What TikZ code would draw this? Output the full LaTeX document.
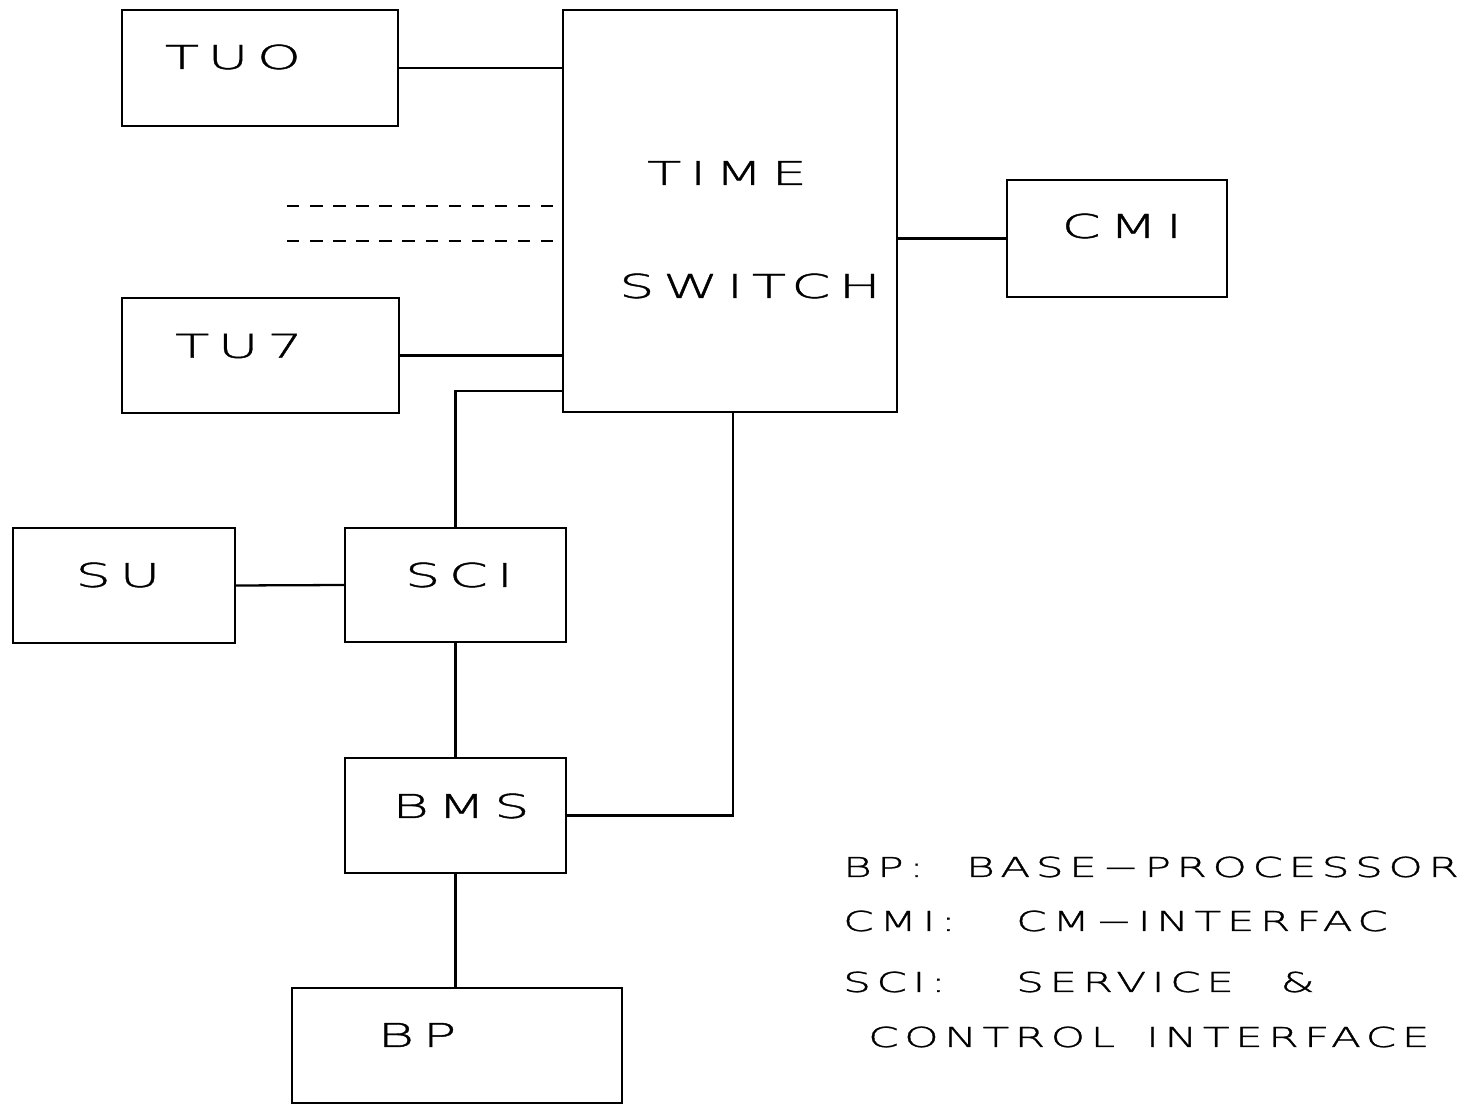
\documentclass[tikz,border=0pt]{standalone}
\usepackage{fontspec}
\usepackage{tikz}
\usetikzlibrary{positioning, calc}
\IfFontExistsTF{DejaVu Sans ExtraLight}{%
  \newfontfamily\plotfont[FakeStretch=1.7, LetterSpace=26, FakeBold=1.2]{DejaVu Sans ExtraLight}
  \newfontfamily\keyfont[FakeStretch=1.6, LetterSpace=20, WordSpace=2.4, FakeBold=1.2]{DejaVu Sans ExtraLight}
}{%
  \newfontfamily\plotfont[FakeStretch=1.8, LetterSpace=31]{DejaVu Sans Mono}
  \newfontfamily\keyfont[FakeStretch=1.8, LetterSpace=18, WordSpace=1.16]{DejaVu Sans Mono}
}

\begin{document}
\begin{tikzpicture}[x=0.02cm, y=-0.02cm, line width=1.3pt,
    unit/.style 2 args={draw, rectangle, inner sep=0pt, minimum width=#1*0.02cm, minimum height=#2*0.02cm},
    tag/.style={inner sep=0pt, font=\plotfont\fontsize{18.7}{20}\selectfont},
    key/.style={anchor=west, inner sep=0pt, font=\keyfont\fontsize{15.6}{17}\selectfont},
    bus/.style={dash pattern=on 0.25cm off 0.212cm}]

    \useasboundingbox (0,0) rectangle (1465,1104);

    % Time switch in the middle
    \node[unit={334}{402}] (tswitch) at (730,211) {};
    \node[tag] (timetag) at (727,173) {TIME};
    \node[tag] (switchtag) at (750,286) {SWITCH};

    % Terminal units on the left side of the switch
    \node[unit={276}{116}] (tuzero) at (260,68) {};
    \node[tag] (tuzerotag) at (233,57) {TUO};
    \node[unit={277}{115}] (tuseven) at (260.5,355.5) {};
    \node[tag] (tuseventag) at (239,346) {TU7};

    % CM interface on the right
    \node[unit={220}{117}] (cmi) at (1117,238.5) {};
    \node[tag] (cmitag) at (1122,226) {CMI};

    % Service unit, interface, BMS and base processor
    \node[unit={222}{115}] (su) at (124,585.5) {};
    \node[tag] (sutag) at (118,575) {SU};
    \node[unit={221}{114}] (sci) at (455.5,585) {};
    \node[tag] (scitag) at (459,575) {SCI};
    \node[unit={221}{115}] (bms) at (455.5,815.5) {};
    \node[tag] (bmstag) at (461,806) {BMS};
    \node[unit={330}{115}] (bp) at (457,1045.5) {};
    \node[tag] (bptag) at (417,1035) {BP};

    % Links into the time switch
    \draw (tuzero.east) -- (tuzero.east -| tswitch.west);
    \draw (tuseven.east) -- (tuseven.east -| tswitch.west);
    \draw (cmi.west) -- (cmi.west -| tswitch.east);

    % Further terminal units, drawn as dashed lines
    \coordinate (busa) at (287,206);
    \coordinate (busb) at (287,241);
    \draw[bus] (busa) -- (busa -| 553,0);
    \draw[bus] (busb) -- (busb -| 553,0);

    % Service path
    \coordinate (tsin) at (563,391);
    \coordinate (tsout) at (733,412);
    \draw (su.east) -- (sci.west);
    \draw (sci.north) |- (tsin);
    \draw (sci.south) -- (bms.north);
    \draw (tsout) |- (bms.east);
    \draw (bms.south) -- (bms.south |- bp.north);

    % Legend
    \node[key] (bpkey) at (842,867) {BP:};
    \node[key, anchor=east] (bptext) at (1460,867) {BASE−PROCESSOR};
    \node[key] (cmikey) at (842,921) {CMI:};
    \node[key] (cmitext) at (1015,921) {CM−INTERFAC};
    \node[key] (scikey) at (842,982) {SCI:};
    \node[key] (scitext) at (1015,982) {SERVICE \&};
    \node[key] (sctkey) at (867,1037) {CONTROL};
    \node[key] (scttext) at (1145,1037) {INTERFACE};

\end{tikzpicture}
\end{document}
